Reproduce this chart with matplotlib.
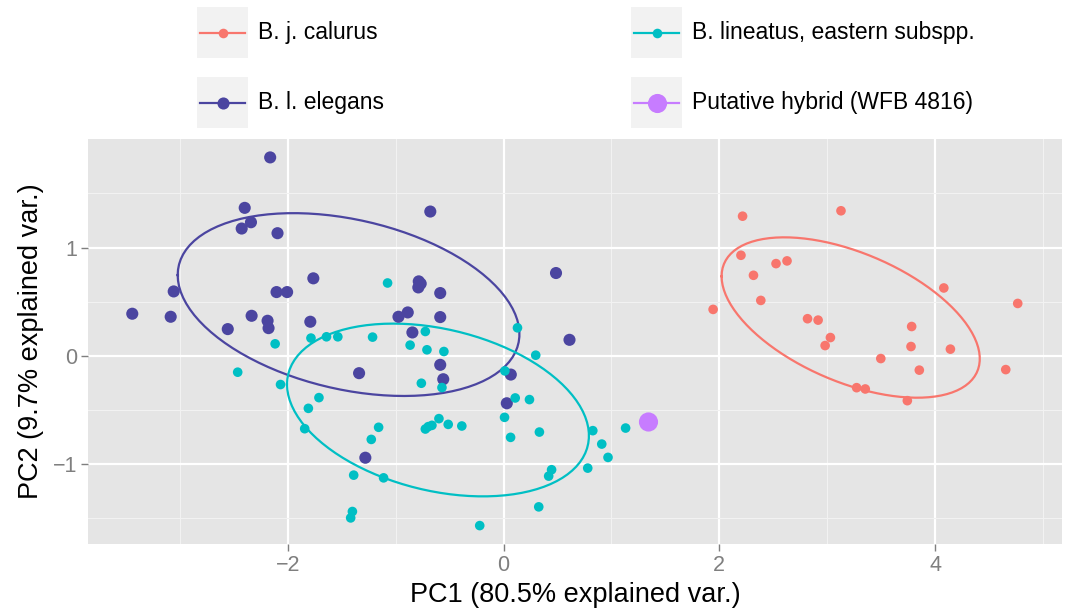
import numpy as np
import matplotlib
matplotlib.use("Agg")
import matplotlib.pyplot as plt
from matplotlib.patches import Rectangle
from matplotlib.lines import Line2D

plt.rcParams["font.family"] = ["Liberation Sans", "DejaVu Sans"]

# ---- data (PC scores) ------------------------------------------------------
calurus_x = [2.215, 3.127, 2.200, 2.316, 2.525, 2.627, 2.384, 1.942, 2.817, 2.915,
             3.029, 2.980, 4.080, 4.765, 3.782, 3.776, 4.141, 3.496, 3.853, 4.654,
             3.272, 3.352, 3.742]
calurus_y = [1.290, 1.340, 0.929, 0.744, 0.852, 0.877, 0.512, 0.429, 0.343, 0.330,
             0.169, 0.095, 0.627, 0.484, 0.271, 0.086, 0.062, -0.025, -0.132, -0.127,
             -0.294, -0.306, -0.414]

elegans_x = [-2.163, -2.399, -2.341, -2.427, -2.095, -0.679, -1.763, -3.057, -2.104,
             -2.006, -3.441, -3.085, -2.335, -2.187, -2.178, -2.556, -1.791, -0.974,
             -0.888, -0.786, -0.768, -0.790, -0.587, -0.587, -0.845, 0.486, 0.611,
             -0.587, -0.559, -1.339, 0.067, 0.030, -1.281]
elegans_y = [1.833, 1.367, 1.234, 1.176, 1.133, 1.333, 0.716, 0.595, 0.589, 0.589,
             0.389, 0.361, 0.370, 0.324, 0.256, 0.247, 0.315, 0.361, 0.401, 0.688,
             0.667, 0.632, 0.580, 0.358, 0.216, 0.765, 0.148, -0.083, -0.216, -0.160,
             -0.173, -0.438, -0.941]

eastern_x = [-1.075, -0.725, -2.117, -1.785, -1.641, -1.536, -1.214, -0.866, -0.710,
             -0.553, 0.129, 0.012, 0.108, -2.464, -2.067, -0.762, -0.571, -1.711,
             -1.809, -1.843, -1.158, -1.226, -0.725, -0.698, -0.664, -0.599, -0.513,
             -0.387, 0.009, 0.065, -1.389, -1.112, -1.401, -1.417, -0.221, 0.298,
             0.240, 0.332, 0.827, 0.910, 0.968, 1.131, 0.780, 0.445, 0.418, 0.326]
eastern_y = [0.673, 0.225, 0.111, 0.164, 0.176, 0.176, 0.173, 0.099, 0.056, 0.040,
             0.259, -0.139, -0.389, -0.151, -0.265, -0.253, -0.293, -0.386, -0.485,
             -0.673, -0.660, -0.772, -0.676, -0.654, -0.642, -0.580, -0.633, -0.648,
             -0.568, -0.753, -1.102, -1.127, -1.438, -1.497, -1.568, 0.006, -0.404,
             -0.704, -0.691, -0.815, -0.938, -0.667, -1.037, -1.052, -1.111, -1.395]

hybrid_x = [1.343]
hybrid_y = [-0.611]

groups = [
    # (label, x, y, colour, marker size)
    ("B. j. calurus", calurus_x, calurus_y, "#F8766D", 48),
    ("B. l. elegans", elegans_x, elegans_y, "#4B45A0", 76),
    ("B. lineatus, eastern subspp.", eastern_x, eastern_y, "#00BFC4", 48),
    ("Putative hybrid (WFB 4816)", hybrid_x, hybrid_y, "#C77CFF", 190),
]

ELLIPSE_PROB = 0.68


def normal_ellipse(x, y, prob=ELLIPSE_PROB, n=100):
    """ggbiplot-style normal data ellipse from the group's covariance."""
    pts = np.column_stack([x, y])
    mu = pts.mean(axis=0)
    sigma = np.cov(pts, rowvar=False)
    ed = np.sqrt(-2 * np.log(1 - prob))
    theta = np.linspace(-np.pi, np.pi, n)
    circle = np.column_stack([np.cos(theta), np.sin(theta)])
    ell = ed * circle @ np.linalg.cholesky(sigma).T + mu
    return ell[:, 0], ell[:, 1]


W, H = 1073, 611
fig = plt.figure(figsize=(W / 100, H / 100), dpi=100)
ax = fig.add_axes([88 / W, 1 - 544 / H, (1062 - 88) / W, (544 - 139) / H])
ax.set_facecolor("#E5E5E5")

for label, x, y, col, s in groups:
    ax.scatter(x, y, s=s, color=col, edgecolors="none", zorder=3)
    if len(x) > 2:
        ex, ey = normal_ellipse(x, y)
        ax.plot(ex, ey, color=col, lw=1.6, zorder=2)

# limits: data range + 5% like ggplot
allx = np.concatenate([np.asarray(g[1]) for g in groups])
ally = np.concatenate([np.asarray(g[2]) for g in groups])
dx = (allx.max() - allx.min()) * 0.05
dy = (ally.max() - ally.min()) * 0.05
ax.set_xlim(allx.min() - dx, allx.max() + dx)
ax.set_ylim(ally.min() - dy, ally.max() + dy)

ax.set_xticks([-2, 0, 2, 4])
ax.set_xticklabels(["\u22122", "0", "2", "4"])
ax.set_yticks([-1, 0, 1])
ax.set_yticklabels(["\u22121", "0", "1"])
ax.set_xticks([-3, -1, 1, 3, 5], minor=True)
ax.set_yticks([-1.5, -0.5, 0.5, 1.5], minor=True)
ax.grid(which="major", color="white", lw=1.6, zorder=0)
ax.grid(which="minor", color="#F2F2F2", lw=0.8, zorder=0)
ax.set_axisbelow(True)
for sp in ax.spines.values():
    sp.set_visible(False)
ax.tick_params(which="major", length=5, width=1, color="#7F7F7F",
               labelcolor="#7F7F7F", labelsize=15.5, pad=3)
ax.tick_params(which="minor", length=0)

ax.set_xlabel("PC1 (80.5% explained var.)", fontsize=19.5, labelpad=4)
ax.set_ylabel("PC2 (9.7% explained var.)", fontsize=19.5, labelpad=6)

# ---- legend, 2 x 2, drawn in pixel space -----------------------------------
key_w, key_h = 51, 51
slots = [(197, 7), (197, 77), (631, 7), (631, 77)]   # top-left of each key
for (label, x, y, col, s), (kx, ky) in zip(groups, slots):
    fig.add_artist(Rectangle((kx / W, 1 - (ky + key_h) / H), key_w / W, key_h / H,
                             transform=fig.transFigure, facecolor="#F2F2F2",
                             edgecolor="none"))
    cy = 1 - (ky + key_h / 2) / H
    fig.add_artist(Line2D([(kx + 3) / W, (kx + key_w - 3) / W], [cy, cy],
                          transform=fig.transFigure, color=col, lw=1.6))
    fig.add_artist(Line2D([(kx + key_w / 2) / W], [cy], transform=fig.transFigure,
                          marker="o", markersize=np.sqrt(s), color=col,
                          markeredgecolor="none", linestyle="none"))
    fig.text((kx + key_w + 10) / W, cy, label, fontsize=16.5, va="center", ha="left")

fig.savefig("out.png", dpi=100)
